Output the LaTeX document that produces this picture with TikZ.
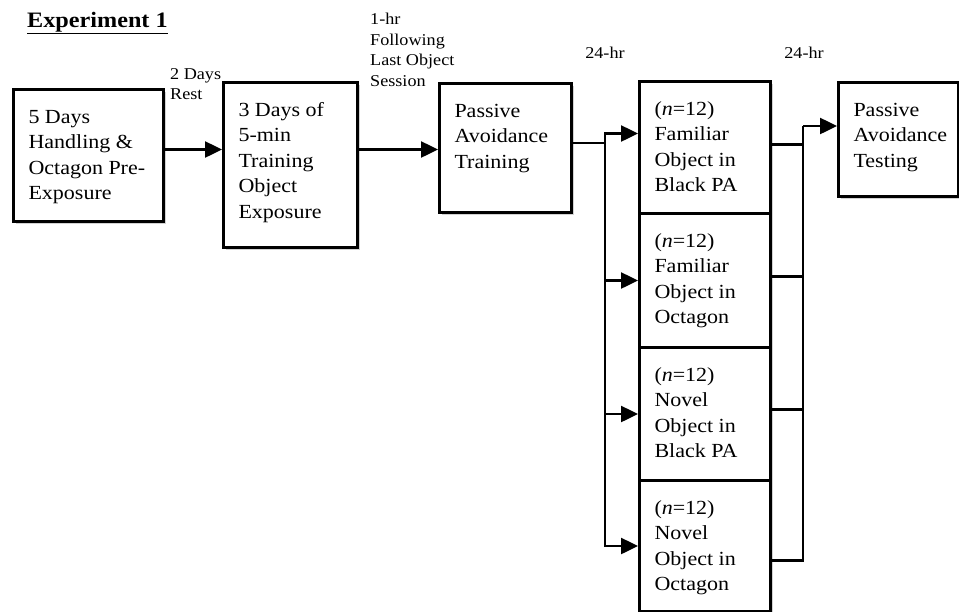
\documentclass[tikz,border=0pt]{standalone}
\usepackage{fontspec}
\setmainfont{Liberation Serif}[FakeStretch=1.1]
\usetikzlibrary{arrows.meta,shadows}
\newcommand\bxtext[3]{\parbox[c][#2][t]{#1}{\leftskip=15pt\rightskip=0pt plus 1fil\relax\rule{0pt}{33.5pt}#3}}
\newcommand\lbltext[2]{\parbox[t]{#1}{\rightskip=0pt plus 1fil\relax #2}}
\tikzset{
  box/.style={draw, line width=3pt, fill=white, inner sep=0pt, anchor=north west,
    font=\fontsize{20}{25.5}\selectfont,
    drop shadow={shadow xshift=2pt, shadow yshift=-2.5pt, fill=black!35, opacity=0.5}},
  lbl/.style={inner sep=0pt, anchor=base west, font=\fontsize{16.5}{20.5}\selectfont},
  conn/.style={line width=2.5pt},
  arr/.style={conn, -{Triangle[length=17pt,width=16pt]}},
}
\begin{document}
\begin{tikzpicture}[x=1pt,y=-1pt]
\useasboundingbox[fill=white] (0,0) rectangle (959,611);

% title
\node[lbl, font=\fontsize{22}{26}\selectfont\bfseries] (title) at (27,27) {\underline{Experiment 1}};

% main chain
\node[box] (b1) at (12,88)  {\bxtext{150pt}{132pt}{5 Days\\Handling \&\\Octagon Pre-\\Exposure}};
\node[box] (b2) at (222,81) {\bxtext{134pt}{165pt}{3 Days of\\5-min\\Training\\Object\\Exposure}};
\node[box] (b3) at (438,82) {\bxtext{132pt}{129pt}{Passive\\Avoidance\\Training}};

% groups
\node[box] (g1) at (638,80)  {\bxtext{131pt}{132pt}{(\textit{n}=12)\\Familiar\\Object in\\Black PA}};
\node[box] (g2) at (638,212) {\bxtext{131pt}{134pt}{(\textit{n}=12)\\Familiar\\Object in\\Octagon}};
\node[box] (g3) at (638,346) {\bxtext{131pt}{133pt}{(\textit{n}=12)\\Novel\\Object in\\Black PA}};
\node[box] (g4) at (638,479) {\bxtext{131pt}{131pt}{(\textit{n}=12)\\Novel\\Object in\\Octagon}};

% testing
\node[box] (t) at (837,81) {\bxtext{120pt}{114pt}{Passive\\Avoidance\\Testing}};

% labels
\node[lbl] (rest) at (170,79) {\lbltext{60pt}{2 Days\\Rest}};
\node[lbl] (hr1) at (370,24.5) {\lbltext{100pt}{1-hr\\Following\\Last Object\\Session}};
\node[lbl, anchor=base] (d1) at (605,58) {24-hr};
\node[lbl, anchor=base] (d2) at (804,58) {24-hr};

% connectors
\coordinate (p1) at ([yshift=6pt]b1.east);
\draw[arr] (p1) -- (p1 -| b2.west);
\draw[arr] (b2.east |- p1) -- (b3.west |- p1);

\coordinate (s1) at (605,143);
\draw[conn] (b3.east |- s1) -- (s1);
\draw[arr] (s1) |- ([yshift=14pt]g1.west);
\draw[arr] (s1) |- (g2.west);
\draw[arr] (s1) |- (g3.west);
\draw[arr] (s1) |- (g4.west);

\coordinate (j) at (803,126);
\draw[conn] ([yshift=3pt]g1.east) -| (j);
\draw[conn] ([yshift=4pt]g2.east) -| (j);
\draw[conn] ([yshift=4.5pt]g3.east) -| (j);
\draw[conn] ([yshift=-14.5pt]g4.east) -| (j);
\draw[arr] (j) -- (j -| t.west);
\end{tikzpicture}
\end{document}
